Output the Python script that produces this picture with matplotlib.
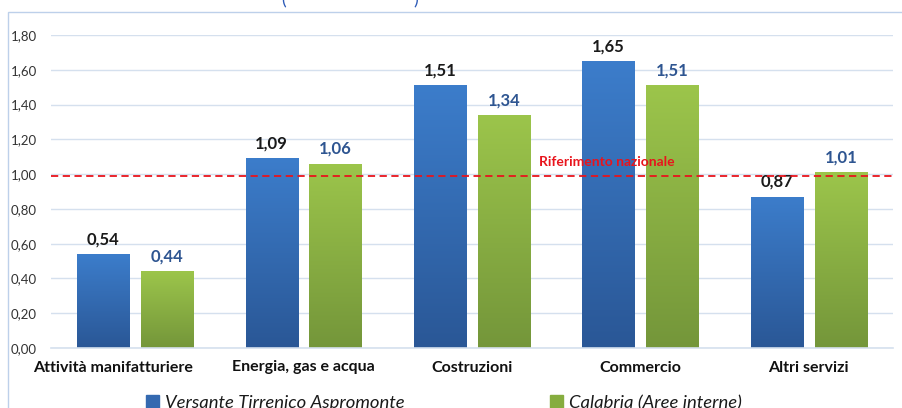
import matplotlib.pyplot as plt
from matplotlib.patches import Rectangle
from matplotlib.colors import LinearSegmentedColormap
import matplotlib.transforms as mtransforms
import numpy as np

categories = ['Attività manifatturiere', 'Energia, gas e acqua', 'Costruzioni', 'Commercio', 'Altri servizi']
versante = [0.54, 1.09, 1.51, 1.65, 0.87]
calabria = [0.44, 1.06, 1.34, 1.51, 1.01]
riferimento = 0.99
yticks = [0.0, 0.2, 0.4, 0.6, 0.8, 1.0, 1.2, 1.4, 1.6, 1.8]

plt.rcParams['font.family'] = ['Lato', 'DejaVu Sans']

W, H = 903, 408
fig = plt.figure(figsize=(W / 100, H / 100), dpi=100)
ax = fig.add_axes([51 / W, 60 / H, 842 / W, 313 / H])

# chart border (only left and top visible)
fig.patches.append(Rectangle((8 / W, -0.1), 1.2, (H - 12) / H + 0.1, transform=fig.transFigure,
                             fill=False, edgecolor='#BDD0EA', linewidth=1.0))

x = np.arange(len(categories))
w = 0.31
off = 0.19

def gradient_bars(bars, top, bottom):
    cmap = LinearSegmentedColormap.from_list('g', [bottom, top])
    grad = np.linspace(0, 1, 256).reshape(-1, 1)
    for b in bars:
        x0, y0 = b.get_x(), b.get_y()
        im = ax.imshow(grad, cmap=cmap, aspect='auto', origin='lower',
                       extent=[x0, x0 + b.get_width(), y0, y0 + b.get_height()], zorder=2)
        im.set_clip_path(b)
        b.set_facecolor('none')

b1 = ax.bar(x - off, versante, w, color='#3A78C4', edgecolor='none', zorder=2)
b2 = ax.bar(x + off, calabria, w, color='#9BC34A', edgecolor='none', zorder=2)
gradient_bars(b1, '#3C7DCB', '#2A5796')
gradient_bars(b2, '#9CC54B', '#74963A')

for xi, v in zip(x - off, versante):
    ax.annotate(f'{v:.2f}'.replace('.', ','), (xi, v), xytext=(0, 5), textcoords='offset points',
                ha='center', va='bottom', fontsize=12, fontweight='bold', color='#1a1a1a')
for xi, v in zip(x + off, calabria):
    ax.annotate(f'{v:.2f}'.replace('.', ','), (xi, v), xytext=(0, 5), textcoords='offset points',
                ha='center', va='bottom', fontsize=12, fontweight='bold', color='#2E5591')

ax.axhline(riferimento, color='#E8141C', linestyle=(0, (4, 2.5)), linewidth=1.3, zorder=3, clip_on=False)
ax.text(2.4, riferimento + 0.045, 'Riferimento nazionale', color='#E8141C', fontsize=10,
        fontweight='bold', ha='left', va='bottom', zorder=4)

ax.set_xlim(-0.5, len(categories) - 0.5)
ax.set_ylim(0, 1.8)
ax.set_yticks(yticks)
ax.set_yticklabels([f'{t:.2f}'.replace('.', ',') for t in yticks], fontsize=9.5, color='#333333')
ax.set_xticks(x)
ax.set_xticklabels(categories, fontsize=11.5, fontweight='bold', color='#111111')
ax.tick_params(axis='y', length=0, pad=10)
ax.tick_params(axis='x', length=0, pad=9)
# Excel pushes the first long label to the left
first = ax.get_xticklabels()[0]
first.set_transform(first.get_transform() + mtransforms.ScaledTranslation(-0.22, 0, fig.dpi_scale_trans))
ax.grid(axis='y', color='#D5E0EE', linewidth=1.0, zorder=0)
ax.set_axisbelow(True)
for s in ['top', 'right', 'left']:
    ax.spines[s].set_visible(False)
ax.spines['bottom'].set_color('#D5E0EE')
ax.spines['bottom'].set_linewidth(1.2)

leg = fig.legend([Rectangle((0, 0), 1, 1, color='#3469B0'), Rectangle((0, 0), 1, 1, color='#86AD3F')],
                 ['Versante Tirrenico Aspromonte', 'Calabria (Aree interne)'],
                 loc='center', bbox_to_anchor=(444 / W, 5 / H), ncol=2, frameon=False,
                 prop={'style': 'italic', 'size': 13.3}, handlelength=0.7, handleheight=0.7,
                 handletextpad=0.3, columnspacing=7.9)
for t in leg.get_texts():
    t.set_color('#1a1a1a')

# cut-off title remnants
fig.text(284 / W, 1.0, '(', color='#2E5CB8', fontsize=13, ha='center', va='center')
fig.text(416 / W, 1.0, ')', color='#2E5CB8', fontsize=13, ha='center', va='center')

fig.savefig('out.png', dpi=100)
